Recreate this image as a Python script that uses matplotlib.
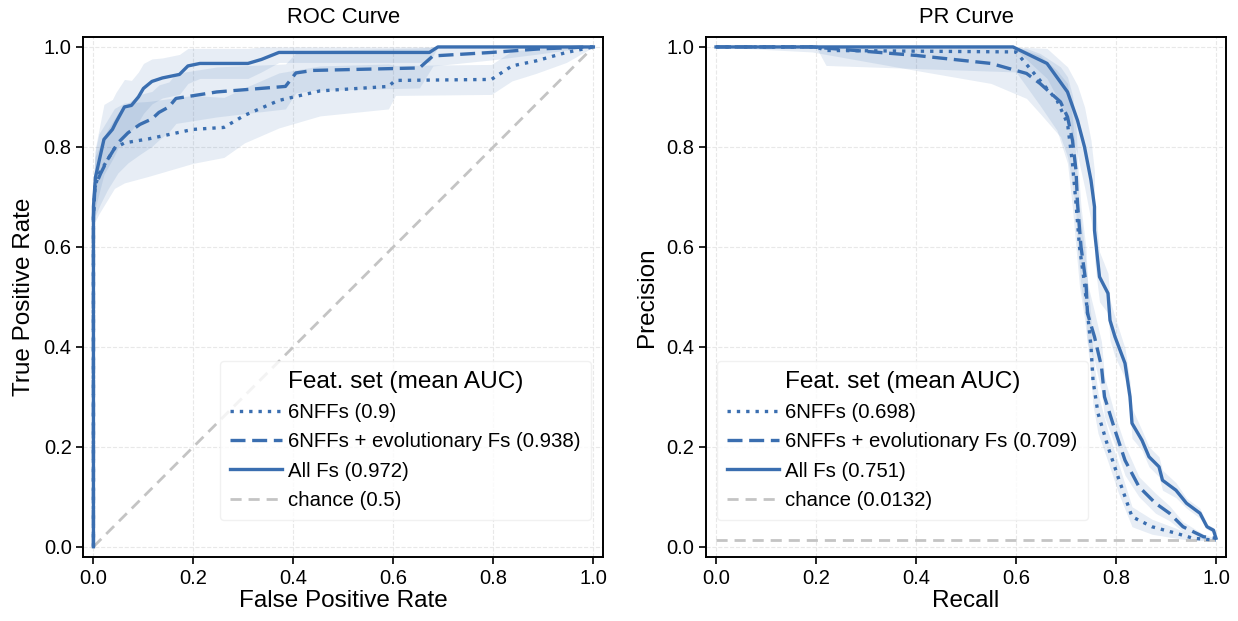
#Import libraries
import numpy as np
import matplotlib
matplotlib.use("Agg")
import matplotlib.pyplot as plt

plt.rcParams['font.family'] = ['Liberation Sans', 'DejaVu Sans']

blue = '#3a6eb0'
grey = '#c4c4c4'

#Legend labels
roc_labels = ['6NFFs (0.9)', '6NFFs + evolutionary Fs (0.938)', 'All Fs (0.972)', 'chance (0.5)']
pr_labels = ['6NFFs (0.698)', '6NFFs + evolutionary Fs (0.709)', 'All Fs (0.751)', 'chance (0.0132)']
chance_pr = 0.0132

#ROC curves (mean fpr/tpr and std)
roc_dot_x = [0.0, 0.0, 0.003, 0.011, 0.028, 0.042, 0.062, 0.110, 0.199, 0.261, 0.302, 0.371, 0.453, 0.590, 0.604, 0.796, 0.837, 0.885, 0.946, 1.0]
roc_dot_y = [0.0, 0.66, 0.72, 0.746, 0.774, 0.797, 0.808, 0.816, 0.835, 0.839, 0.863, 0.893, 0.912, 0.921, 0.933, 0.935, 0.962, 0.972, 0.989, 1.0]
roc_dot_s = [0.0, 0.06, 0.07, 0.08, 0.08, 0.08, 0.08, 0.075, 0.068, 0.06, 0.055, 0.055, 0.05, 0.045, 0.03, 0.03, 0.03, 0.025, 0.02, 0.0]

roc_dash_x = [0.0, 0.0, 0.003, 0.014, 0.028, 0.049, 0.069, 0.093, 0.117, 0.131, 0.151, 0.165, 0.247, 0.384, 0.405, 0.439, 0.652, 0.679, 0.796, 0.891, 0.99, 1.0]
roc_dash_y = [0.0, 0.66, 0.72, 0.746, 0.774, 0.808, 0.828, 0.845, 0.856, 0.869, 0.880, 0.897, 0.910, 0.921, 0.948, 0.953, 0.958, 0.982, 0.989, 0.996, 1.0, 1.0]
roc_dash_s = [0.0, 0.05, 0.06, 0.06, 0.06, 0.06, 0.06, 0.06, 0.055, 0.055, 0.05, 0.05, 0.05, 0.045, 0.04, 0.04, 0.04, 0.02, 0.015, 0.01, 0.0, 0.0]

roc_solid_x = [0.0, 0.0, 0.004, 0.021, 0.038, 0.045, 0.062, 0.076, 0.090, 0.100, 0.117, 0.138, 0.172, 0.189, 0.213, 0.309, 0.336, 0.371, 0.672, 0.689, 1.0]
roc_solid_y = [0.0, 0.68, 0.739, 0.815, 0.835, 0.849, 0.880, 0.883, 0.900, 0.917, 0.931, 0.938, 0.945, 0.962, 0.967, 0.967, 0.975, 0.989, 0.989, 1.0, 1.0]
roc_solid_s = [0.0, 0.05, 0.06, 0.07, 0.06, 0.06, 0.055, 0.05, 0.05, 0.05, 0.045, 0.04, 0.04, 0.035, 0.03, 0.03, 0.025, 0.02, 0.02, 0.0, 0.0]

#PR curves (mean recall/precision and std)
pr_dot_x = [0.0, 0.20, 0.22, 0.60, 0.648, 0.682, 0.703, 0.713, 0.720, 0.727, 0.737, 0.750, 0.754, 0.764, 0.784, 0.804, 0.832, 0.872, 0.920, 0.954, 1.0]
pr_dot_y = [1.0, 1.0, 0.993, 0.99, 0.933, 0.893, 0.847, 0.767, 0.687, 0.600, 0.527, 0.400, 0.333, 0.267, 0.200, 0.140, 0.060, 0.040, 0.027, 0.017, 0.013]
pr_dot_s = [0.0, 0.0, 0.03, 0.04, 0.05, 0.06, 0.08, 0.09, 0.09, 0.08, 0.07, 0.06, 0.05, 0.04, 0.03, 0.03, 0.02, 0.015, 0.01, 0.005, 0.0]

pr_dash_x = [0.0, 0.192, 0.40, 0.55, 0.621, 0.648, 0.689, 0.703, 0.713, 0.720, 0.723, 0.730, 0.740, 0.743, 0.757, 0.771, 0.777, 0.798, 0.818, 0.846, 0.879, 0.907, 0.934, 0.975, 1.0]
pr_dash_y = [1.0, 1.0, 0.983, 0.967, 0.947, 0.927, 0.890, 0.860, 0.813, 0.753, 0.687, 0.600, 0.527, 0.467, 0.420, 0.360, 0.300, 0.233, 0.173, 0.120, 0.087, 0.067, 0.040, 0.020, 0.017]
pr_dash_s = [0.0, 0.01, 0.03, 0.04, 0.05, 0.06, 0.07, 0.08, 0.09, 0.09, 0.09, 0.08, 0.07, 0.06, 0.05, 0.05, 0.04, 0.03, 0.03, 0.02, 0.02, 0.015, 0.01, 0.005, 0.0]

pr_solid_x = [0.0, 0.594, 0.662, 0.703, 0.723, 0.737, 0.750, 0.757, 0.757, 0.767, 0.784, 0.788, 0.798, 0.818, 0.828, 0.832, 0.852, 0.866, 0.886, 0.893, 0.920, 0.941, 0.968, 0.982, 0.995, 1.0]
pr_solid_y = [1.0, 1.0, 0.967, 0.910, 0.853, 0.800, 0.733, 0.680, 0.633, 0.540, 0.507, 0.453, 0.420, 0.367, 0.300, 0.247, 0.213, 0.180, 0.160, 0.133, 0.113, 0.087, 0.067, 0.040, 0.033, 0.017]
pr_solid_s = [0.0, 0.0, 0.03, 0.05, 0.07, 0.08, 0.08, 0.07, 0.06, 0.05, 0.04, 0.04, 0.04, 0.03, 0.03, 0.03, 0.02, 0.02, 0.02, 0.02, 0.015, 0.01, 0.01, 0.005, 0.005, 0.0]

fig = plt.figure(figsize=(12.38, 6.21), dpi=100)
ax1 = fig.add_axes([0.0674, 0.1035, 0.420, 0.837])
ax2 = fig.add_axes([0.5703, 0.1035, 0.420, 0.837])

def draw_curve(ax, x, y, s, ls, lw):
    x = np.array(x); y = np.array(y); s = np.array(s)
    ax.fill_between(x, np.maximum(y - s, 0), np.minimum(y + s, 1), color=blue, alpha=0.12, lw=0)
    return ax.plot(x, y, color=blue, ls=ls, lw=lw, zorder=3)[0]

dot = (0, (1, 1.8))
dash = (0, (4.5, 2))
h1 = draw_curve(ax1, roc_dot_x, roc_dot_y, roc_dot_s, dot, 2.4)
h2 = draw_curve(ax1, roc_dash_x, roc_dash_y, roc_dash_s, dash, 2.4)
h3 = draw_curve(ax1, roc_solid_x, roc_solid_y, roc_solid_s, '-', 2.4)
h4 = ax1.plot([0, 1], [0, 1], color=grey, ls=(0, (4, 2.5)), lw=2)[0]

g1 = draw_curve(ax2, pr_dot_x, pr_dot_y, pr_dot_s, dot, 2.4)
g2 = draw_curve(ax2, pr_dash_x, pr_dash_y, pr_dash_s, dash, 2.4)
g3 = draw_curve(ax2, pr_solid_x, pr_solid_y, pr_solid_s, '-', 2.4)
g4 = ax2.plot([0, 1], [chance_pr, chance_pr], color=grey, ls=(0, (4, 2.5)), lw=2)[0]

for ax, title, xl, yl in [(ax1, 'ROC Curve', 'False Positive Rate', 'True Positive Rate'),
                          (ax2, 'PR Curve', 'Recall', 'Precision')]:
    ax.set_xlim(-0.02, 1.02)
    ax.set_ylim(-0.02, 1.02)
    ax.set_xticks(np.arange(0, 1.01, 0.2))
    ax.set_yticks(np.arange(0, 1.01, 0.2))
    ax.tick_params(labelsize=14.5, length=5, width=1.2, color='black')
    ax.grid(True, ls='--', color='#e8e8e8', lw=0.8)
    ax.set_axisbelow(True)
    for sp in ax.spines.values():
        sp.set_linewidth(1.4)
        sp.set_color('black')
    ax.set_title(title, fontsize=15.8, pad=10)
    ax.set_xlabel(xl, fontsize=17.5, labelpad=2)
    ax.set_ylabel(yl, fontsize=17.5, labelpad=6)

leg_kw = dict(title='Feat. set (mean AUC)', fontsize=14.7, title_fontsize=17.6,
              handlelength=2.55, handletextpad=0.3, borderpad=0.5, borderaxespad=0,
              edgecolor='#eeeeee', framealpha=0.8)
ax1.legend([h1, h2, h3, h4], roc_labels, loc='lower right', bbox_to_anchor=(0.976, 0.0706), **leg_kw)
ax2.legend([g1, g2, g3, g4], pr_labels, loc='lower left', bbox_to_anchor=(0.021, 0.0706), **leg_kw)

fig.savefig('out.png', dpi=100)
